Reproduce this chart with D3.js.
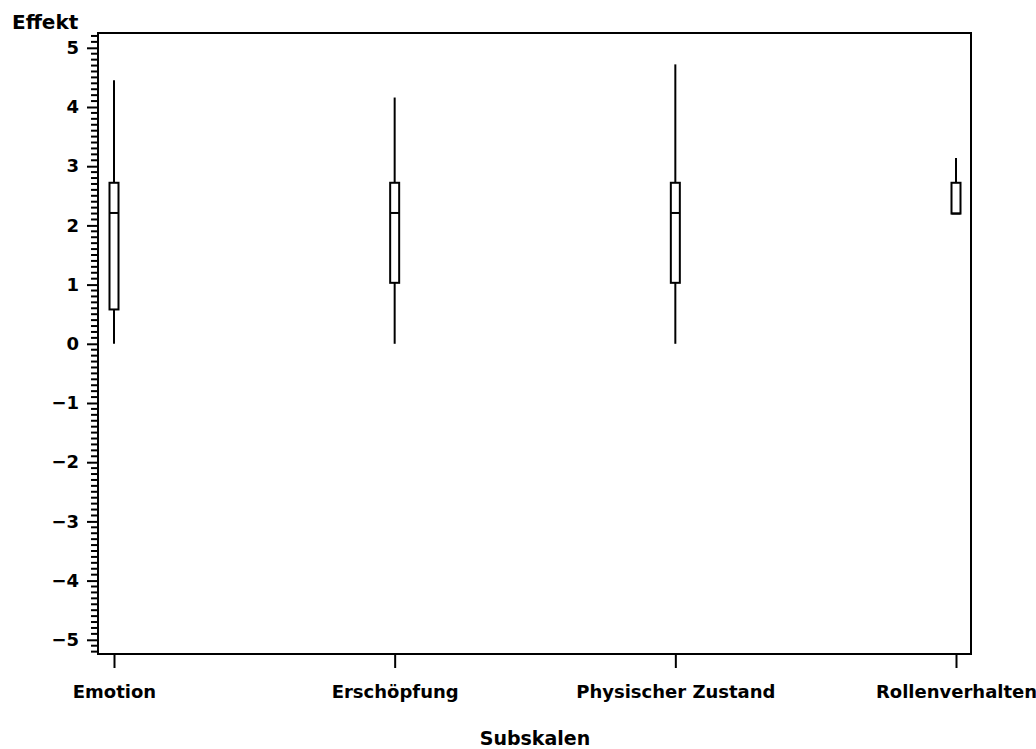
<!DOCTYPE html>
<html>
<head>
<meta charset="utf-8">
<script src="https://cdn.jsdelivr.net/npm/d3@7"></script>
<style>
  html, body { margin: 0; padding: 0; background: #fff; }
  text { font-family: "DejaVu Sans", sans-serif; font-weight: bold; fill: #000; }
</style>
</head>
<body>
<svg id="chart" width="1036" height="749"></svg>
<script>
// Subscales and their box-plot summaries (effect sizes)
const categories = ["Emotion", "Erschöpfung", "Physischer Zustand", "Rollenverhalten"];
const whiskerLow  = [0.00, 0.00, 0.00, 2.20];
const q1          = [0.58, 1.03, 1.03, 2.20];
const median      = [2.21, 2.21, 2.21, 2.20];
const q3          = [2.72, 2.72, 2.72, 2.72];
const whiskerHigh = [4.45, 4.16, 4.72, 3.14];
const yTicks = [-5, -4, -3, -2, -1, 0, 1, 2, 3, 4, 5];

const svg = d3.select("#chart");
const frame = { left: 98, right: 971, top: 33, bottom: 654 };

const y = d3.scaleLinear().domain([-5.24, 5.25]).range([frame.bottom, frame.top]);
const x = d3.scalePoint().domain(categories).range([114, 956]);

const stroke = 2;

// plot frame
svg.append("rect")
  .attr("x", frame.left).attr("y", frame.top)
  .attr("width", frame.right - frame.left).attr("height", frame.bottom - frame.top)
  .attr("fill", "none").attr("stroke", "#000").attr("stroke-width", stroke);

// y axis: major ticks with labels
const yAxis = d3.axisLeft(y).tickValues(yTicks).tickSize(11).tickPadding(8)
  .tickFormat(d => (d < 0 ? "\u2212" + Math.abs(d) : String(d)));
const gy = svg.append("g").attr("transform", `translate(${frame.left},0)`).call(yAxis);
gy.select(".domain").remove();
gy.selectAll(".tick line").attr("stroke", "#000").attr("stroke-width", stroke);
gy.selectAll(".tick text").style("font-size", "18px").style("font-weight", "bold")
  .style("font-family", "DejaVu Sans, sans-serif");

// y axis: minor ticks every 0.1
const minor = d3.range(-52, 53).filter(v => v % 10 !== 0).map(v => v / 10);
svg.append("g").selectAll("line").data(minor).join("line")
  .attr("x1", frame.left - 7).attr("x2", frame.left)
  .attr("y1", d => y(d)).attr("y2", d => y(d))
  .attr("stroke", "#000").attr("stroke-width", 2);

// x axis
const xAxis = d3.axisBottom(x).tickSize(14).tickPadding(17);
const gx = svg.append("g").attr("transform", `translate(0,${frame.bottom})`).call(xAxis);
gx.select(".domain").remove();
gx.selectAll(".tick line").attr("stroke", "#000").attr("stroke-width", stroke);
gx.selectAll(".tick text").style("font-size", "18px").style("font-weight", "bold")
  .style("font-family", "DejaVu Sans, sans-serif");

// box plots
const boxW = 9;
const rows = categories.map((c, i) => ({
  c, lo: whiskerLow[i], q1: q1[i], med: median[i], q3: q3[i], hi: whiskerHigh[i]
}));
const g = svg.append("g");
rows.forEach(d => {
  const cx = x(d.c);
  if (d.lo < d.q1) {
    g.append("line").attr("x1", cx).attr("x2", cx)
      .attr("y1", y(d.lo)).attr("y2", y(d.q1))
      .attr("stroke", "#000").attr("stroke-width", stroke);
  }
  if (d.hi > d.q3) {
    g.append("line").attr("x1", cx).attr("x2", cx)
      .attr("y1", y(d.q3)).attr("y2", y(d.hi))
      .attr("stroke", "#000").attr("stroke-width", stroke);
  }
  g.append("rect")
    .attr("x", cx - boxW / 2).attr("y", y(d.q3))
    .attr("width", boxW).attr("height", y(d.q1) - y(d.q3))
    .attr("fill", "#fff").attr("stroke", "#000").attr("stroke-width", stroke);
  g.append("line").attr("x1", cx - boxW / 2).attr("x2", cx + boxW / 2)
    .attr("y1", y(d.med)).attr("y2", y(d.med))
    .attr("stroke", "#000").attr("stroke-width", stroke);
});

// axis titles
svg.append("text").attr("x", 12).attr("y", 29)
  .style("font-size", "20px").text("Effekt");
svg.append("text").attr("x", 535).attr("y", 745).attr("text-anchor", "middle")
  .style("font-size", "19px").text("Subskalen");
</script>
</body>
</html>
